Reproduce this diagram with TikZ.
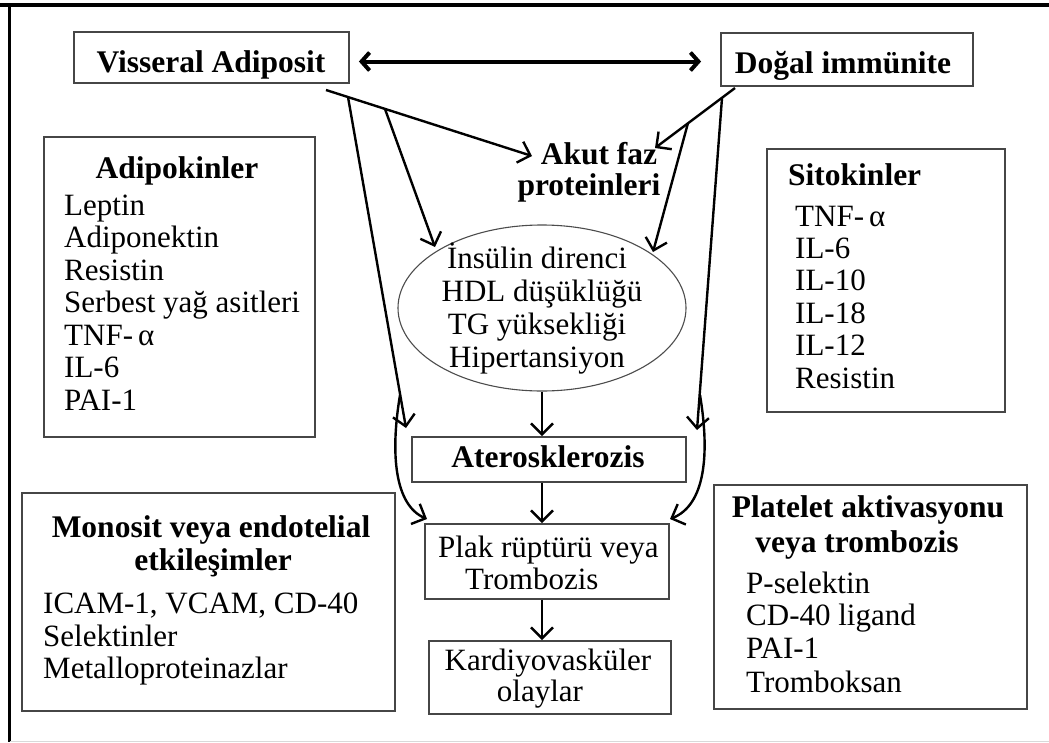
\documentclass[tikz,border=0pt]{standalone}
\usepackage{fontspec}
\setmainfont{Liberation Serif}
\usetikzlibrary{arrows.meta,shapes.geometric,calc}
\definecolor{boxgray}{RGB}{70,70,70}
\begin{document}
\begin{tikzpicture}[x=1pt,y=-1pt,
  box/.style={draw=boxgray, line width=1.8pt, inner sep=0pt},
  txt/.style={inner sep=0pt, font=\fontsize{31}{33}\selectfont},
  bld/.style={inner sep=0pt, font=\fontsize{31.5}{33}\selectfont\bfseries},
  arr/.style={-{Straight Barb[length=11pt,width=22pt]}, line width=2.4pt},
  dbl/.style={{Straight Barb[length=8pt,width=18pt]}-{Straight Barb[length=8pt,width=18pt]}, line width=4pt},
]
\useasboundingbox (0,0) rectangle (1049,742);
% frame
\draw[line width=4pt] (0,5.3) -- (1049,5.3);
\draw[line width=2.2pt] (9.5,4) -- (9.5,742);
\draw[black!15, line width=1pt] (9.5,741.5) -- (1049,741.5);

% boxes
\node[box, minimum width=275pt, minimum height=51pt] (va) at (211.5,57.5) {};
\node[box, minimum width=252pt, minimum height=53pt] (dg) at (847,59.5) {};
\node[box, minimum width=271pt, minimum height=300pt] (adk) at (179.5,287) {};
\node[box, minimum width=238pt, minimum height=263pt] (sit) at (886,280.5) {};
\node[ellipse, draw=black!70, line width=1.1pt, minimum width=288pt, minimum height=166pt, inner sep=0pt] (ell) at (542,308) {};
\node[box, minimum width=274pt, minimum height=45pt] (ate) at (549,459.5) {};
\node[box, minimum width=373pt, minimum height=218pt] (mon) at (208.5,602) {};
\node[box, minimum width=244pt, minimum height=75pt] (plk) at (547,561.5) {};
\node[box, minimum width=242pt, minimum height=73pt] (kar) at (550,677.5) {};
\node[box, minimum width=313pt, minimum height=224pt] (plt) at (870.5,597) {};

% texts
\node[bld, anchor=base] (tva) at (211,72) {Visseral Adiposit};
\node[bld, anchor=base] (tdg) at (843,73) {Doğal immünite};
\node[inner sep=0pt, font=\fontsize{31.5}{31}\selectfont\bfseries, align=center, anchor=base] (ak) at (589,195) {\hspace*{20pt}Akut faz\\proteinleri};

\node[bld, anchor=base] (tadk) at (177,178) {Adipokinler};
\node[txt, anchor=base west] (a1) at (64,215) {Leptin};
\node[txt, anchor=base west] (a2) at (64,247.5) {Adiponektin};
\node[txt, anchor=base west] (a3) at (64,280) {Resistin};
\node[txt, anchor=base west] (a4) at (64,312.5) {Serbest yağ asitleri};
\node[txt, anchor=base west] (a5) at (64,345) {TNF-\,α};
\node[txt, anchor=base west] (a6) at (64,377.5) {IL-6};
\node[txt, anchor=base west] (a7) at (64,410) {PAI-1};

\node[bld, anchor=base west] (tsit) at (788,185) {Sitokinler};
\node[txt, anchor=base west] (s1) at (795,226) {TNF-\,α};
\node[txt, anchor=base west] (s2) at (795,258) {IL-6};
\node[txt, anchor=base west] (s3) at (795,290.5) {IL-10};
\node[txt, anchor=base west] (s4) at (795,323) {IL-18};
\node[txt, anchor=base west] (s5) at (795,355.5) {IL-12};
\node[txt, anchor=base west] (s6) at (795,388) {Resistin};

\node[txt, anchor=base] (e1) at (537,268) {İnsülin direnci};
\node[txt, anchor=base] (e2) at (542,301) {HDL düşüklüğü};
\node[txt, anchor=base] (e3) at (537,334) {TG yüksekliği};
\node[txt, anchor=base] (e4) at (537,367) {Hipertansiyon};

\node[bld, anchor=base] (tate) at (548,467) {Aterosklerozis};

\node[bld, anchor=base] (m1) at (211,537) {Monosit veya endotelial};
\node[bld, anchor=base] (m2) at (213,570) {etkileşimler};
\node[txt, anchor=base west] (m3) at (43,613) {ICAM-1, VCAM, CD-40};
\node[txt, anchor=base west] (m4) at (43,646) {Selektinler};
\node[txt, anchor=base west] (m5) at (43,678) {Metalloproteinazlar};

\node[txt, anchor=base west] (p1) at (438,557) {Plak rüptürü veya};
\node[txt, anchor=base west] (p2) at (465,589) {Trombozis};

\node[txt, anchor=base] (k1) at (548,670) {Kardiyovasküler};
\node[txt, anchor=base] (k2) at (540,701) {olaylar};

\node[bld, anchor=base] (q1) at (868,517) {Platelet aktivasyonu};
\node[bld, anchor=base] (q2) at (857,552) {veya trombozis};
\node[txt, anchor=base west] (q3) at (746,593) {P-selektin};
\node[txt, anchor=base west] (q4) at (746,625) {CD-40 ligand};
\node[txt, anchor=base west] (q5) at (746,658) {PAI-1};
\node[txt, anchor=base west] (q6) at (746,692) {Tromboksan};

% connector coordinates
\coordinate (vs) at (326,90);
\coordinate (vb1) at (348,97);
\coordinate (vb2) at (385,109);
\coordinate (tak) at (532,156);
\coordinate (ds) at (735,88);
\coordinate (db2) at (722,98);
\coordinate (db1) at (688,123);
\coordinate (tak2) at (655,148);
\coordinate (tl) at (406,428);
\coordinate (tr) at (697,430);
\coordinate (el) at (435,247);
\coordinate (er) at (653,252);
\coordinate (cl) at (400,395);
\coordinate (cr) at (700,395);
\coordinate (pl) at (427,519);
\coordinate (pr) at (670,519);

% connectors
\draw[dbl] ([xshift=9pt,yshift=-4pt]va.east) -- ([xshift=-19pt,yshift=-2pt]dg.west);
\draw[arr] (vs) -- (tak);
\draw[arr] (vb1) -- (tl);
\draw[arr] (vb2) -- (el);
\draw[arr] (ds) -- (tak2);
\draw[arr] (db1) -- (er);
\draw[arr] (db2) -- (tr);
\draw[arr] (cl) .. controls (390,455) and (395,505) .. (pl);
\draw[arr] (cr) .. controls (710,455) and (705,505) .. (pr);
\draw[arr] (ell.south) -- (ell.south |- ate.north);
\draw[arr] (ell.south |- ate.south) -- (ell.south |- plk.north);
\draw[arr] (ell.south |- plk.south) -- (ell.south |- kar.north);
\end{tikzpicture}
\end{document}
